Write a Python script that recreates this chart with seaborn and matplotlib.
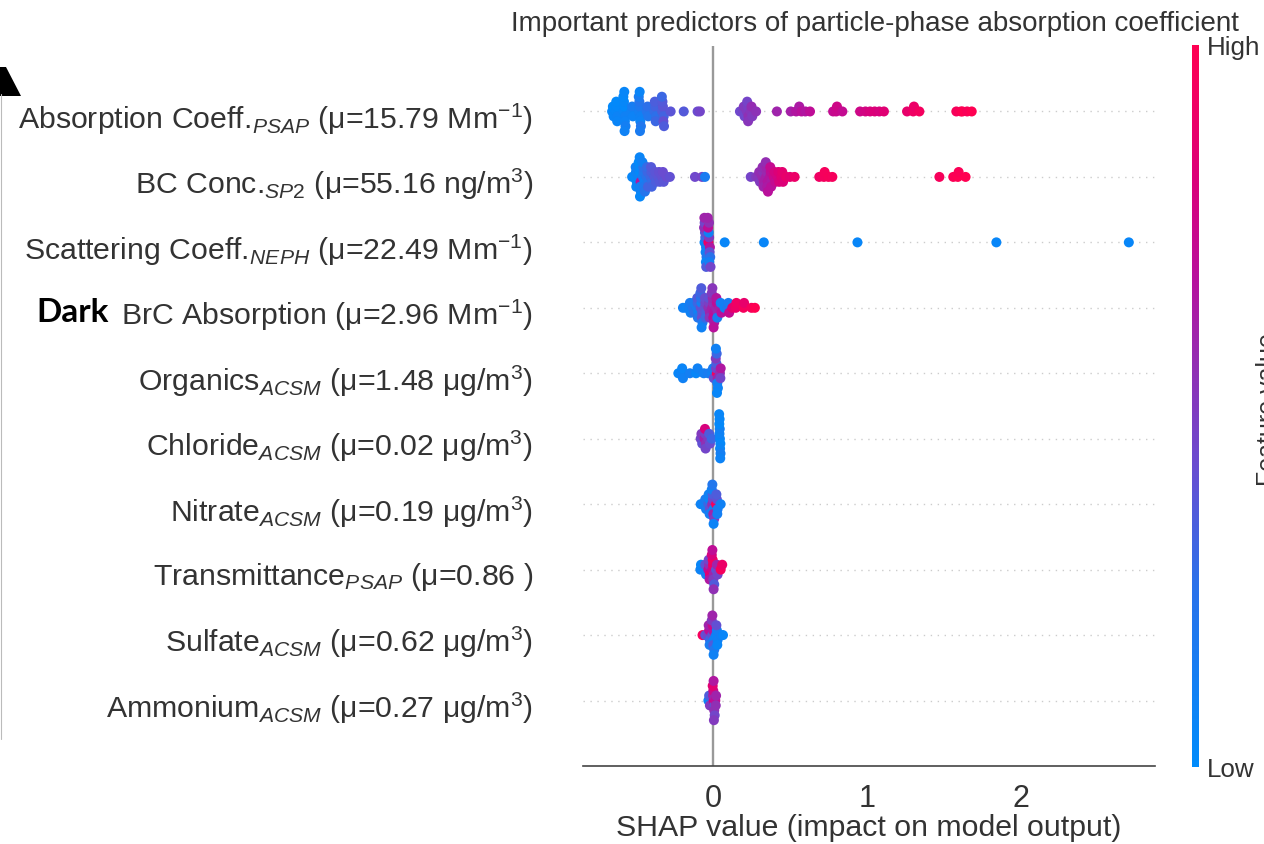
import numpy as np
import pandas as pd
import matplotlib
matplotlib.use("Agg")
import matplotlib.pyplot as plt
from matplotlib.colors import LinearSegmentedColormap, Normalize
from matplotlib.cm import ScalarMappable
from matplotlib.patches import Polygon
from matplotlib.lines import Line2D
from matplotlib.transforms import ScaledTranslation
import seaborn as sns

# ---------------------------------------------------------------------------
# Feature labels (top to bottom, most to least important)
# ---------------------------------------------------------------------------
feature_labels = [
    "Absorption Coeff.$_{PSAP}$ (μ=15.79 Mm$^{-1}$)",
    "BC Conc.$_{SP2}$ (μ=55.16 ng/m$^{3}$)",
    "Scattering Coeff.$_{NEPH}$ (μ=22.49 Mm$^{-1}$)",
    "BrC Absorption (μ=2.96 Mm$^{-1}$)",
    "Organics$_{ACSM}$ (μ=1.48 μg/m$^{3}$)",
    "Chloride$_{ACSM}$ (μ=0.02 μg/m$^{3}$)",
    "Nitrate$_{ACSM}$ (μ=0.19 μg/m$^{3}$)",
    "Transmittance$_{PSAP}$ (μ=0.86 )",
    "Sulfate$_{ACSM}$ (μ=0.62 μg/m$^{3}$)",
    "Ammonium$_{ACSM}$ (μ=0.27 μg/m$^{3}$)",
]

# SHAP values and scaled feature values (0 = low, 1 = high) for each feature
psap_shap = [-0.655, -0.650, -0.645,
             -0.630, -0.625, -0.620, -0.628, -0.622,
             -0.580, -0.575, -0.570, -0.578, -0.572, -0.582, -0.568, -0.576, -0.574,
             -0.530, -0.525, -0.520,
             -0.480, -0.475, -0.470, -0.478, -0.472, -0.482, -0.468, -0.476, -0.474,
             -0.430, -0.425, -0.420,
             -0.380, -0.375, -0.370, -0.378, -0.372,
             -0.330, -0.325, -0.320, -0.328, -0.322, -0.332, -0.318,
             -0.275, -0.190, -0.100, -0.085,
             0.175, 0.195, 0.200, 0.205,
             0.220, 0.225, 0.230, 0.222, 0.228,
             0.245, 0.250, 0.255, 0.280,
             0.415, 0.505, 0.540, 0.560, 0.575, 0.600, 0.630,
             0.780, 0.800, 0.805, 0.840,
             0.955, 0.990, 1.020, 1.050, 1.080, 1.110,
             1.260, 1.300, 1.305, 1.340,
             1.580, 1.610, 1.620, 1.650, 1.680]
psap_level = [0.04, 0.02, 0.06,
              0.05, 0.03, 0.08, 0.02, 0.06,
              0.06, 0.02, 0.10, 0.04, 0.08, 0.03, 0.12, 0.05, 0.09,
              0.10, 0.14, 0.08,
              0.12, 0.18, 0.10, 0.22, 0.08, 0.15, 0.20, 0.06, 0.16,
              0.22, 0.26, 0.20,
              0.28, 0.32, 0.26, 0.34, 0.30,
              0.34, 0.38, 0.32, 0.36, 0.40, 0.30, 0.35,
              0.38, 0.36, 0.42, 0.45,
              0.44, 0.46, 0.50, 0.44,
              0.50, 0.48, 0.55, 0.46, 0.52,
              0.52, 0.56, 0.50, 0.54,
              0.60, 0.62, 0.66, 0.64, 0.68, 0.66, 0.70,
              0.72, 0.74, 0.76, 0.72,
              0.76, 0.78, 0.80, 0.82, 0.80, 0.84,
              0.88, 0.92, 0.90, 0.94,
              0.96, 0.98, 1.00, 0.97, 1.00]

sp2_shap = [-0.525,
            -0.505, -0.500, -0.495, -0.502, -0.498,
            -0.480, -0.475, -0.470, -0.478, -0.472, -0.482, -0.468, -0.476, -0.474,
            -0.455, -0.450, -0.445, -0.452, -0.448, -0.458, -0.442,
            -0.430, -0.425, -0.420, -0.428, -0.422,
            -0.405, -0.400, -0.395, -0.402, -0.398,
            -0.380, -0.375, -0.370,
            -0.355, -0.350, -0.345,
            -0.330, -0.325, -0.320,
            -0.300, -0.280,
            -0.117, -0.071, -0.052,
            0.245, 0.280,
            0.295, 0.300, 0.305,
            0.320, 0.325, 0.330, 0.322, 0.328,
            0.345, 0.350, 0.355, 0.348, 0.352, 0.343, 0.357,
            0.370, 0.375, 0.380, 0.372, 0.378,
            0.395, 0.400, 0.405,
            0.420, 0.425, 0.430,
            0.445, 0.450, 0.455,
            0.475, 0.500, 0.530,
            0.690, 0.720, 0.725, 0.750, 0.775,
            1.470, 1.560, 1.590, 1.595, 1.640]
sp2_level = [0.05,
             0.04, 0.08, 0.02, 0.10, 0.06,
             0.08, 0.03, 0.65, 0.05, 0.12, 0.02, 0.10, 0.06, 0.04,
             0.15, 0.20, 0.12, 0.25, 0.18, 0.10, 0.22,
             0.25, 0.30, 0.22, 0.28, 0.32,
             0.30, 0.34, 0.28, 0.36, 0.32,
             0.36, 0.38, 0.34,
             0.38, 0.40, 0.36,
             0.40, 0.42, 0.38,
             0.42, 0.40,
             0.44, 0.46, 0.15,
             0.46, 0.50,
             0.52, 0.56, 0.50,
             0.58, 0.54, 0.62, 0.56, 0.60,
             0.62, 0.58, 0.66, 0.60, 0.64, 0.56, 0.68,
             0.66, 0.70, 0.64, 0.72, 0.68,
             0.74, 0.78, 0.72,
             0.78, 0.82, 0.80,
             0.84, 0.86, 0.82,
             0.88, 0.86, 0.90,
             0.92, 0.94, 0.95, 0.96, 0.95,
             0.96, 0.98, 1.00, 0.98, 1.00]

neph_shap = [-0.055, -0.050, -0.045, -0.052, -0.048, -0.058, -0.042, -0.054, -0.046, -0.056, -0.044,
             -0.030, -0.025, -0.020, -0.028, -0.022, -0.032, -0.018, -0.026, -0.024, -0.034, -0.016,
             0.076, 0.330, 0.938, 1.840, 2.700]
neph_level = [0.05, 0.30, 0.10, 0.40, 0.08, 0.55, 0.20, 0.45, 0.05, 0.60, 0.35,
              0.90, 0.50, 0.65, 0.10, 0.40, 0.70, 0.25, 0.55, 0.12, 0.60, 0.45,
              0.05, 0.05, 0.05, 0.05, 0.05]

brc_shap = [-0.195, -0.175,
            -0.155, -0.150, -0.145,
            -0.130, -0.125, -0.120,
            -0.105, -0.100, -0.095, -0.102, -0.098,
            -0.080, -0.075, -0.070, -0.078, -0.072, -0.082, -0.068, -0.076, -0.074,
            -0.055, -0.050, -0.045, -0.052, -0.048,
            -0.030, -0.025, -0.020, -0.028, -0.022,
            -0.005, 0.000, 0.005, -0.002, 0.002, -0.008, 0.008, -0.004, 0.004,
            0.020, 0.025, 0.030, 0.022, 0.028,
            0.045, 0.050, 0.055,
            0.075,
            0.095, 0.100, 0.105,
            0.125, 0.148, 0.152, 0.198, 0.202, 0.250, 0.272]
brc_level = [0.10, 0.08,
             0.12, 0.15, 0.10,
             0.20, 0.15, 0.25,
             0.15, 0.30, 0.10, 0.35, 0.20,
             0.40, 0.12, 0.38, 0.25, 0.42, 0.30, 0.18, 0.35, 0.10,
             0.40, 0.45, 0.35, 0.42, 0.30,
             0.55, 0.48, 0.60, 0.40, 0.52,
             0.62, 0.55, 0.66, 0.58, 0.70, 0.50, 0.64, 0.52, 0.68,
             0.60, 0.70, 0.58, 0.66, 0.15,
             0.62, 0.12, 0.68,
             0.10,
             0.20, 0.15, 0.72,
             0.85, 0.90, 0.92, 0.95, 0.88, 0.95, 1.00]

org_shap = [-0.225, -0.205, -0.200, -0.195, -0.150, -0.110, -0.100, -0.060, -0.030,
            -0.005, 0.000, 0.005,
            0.025, 0.020, 0.030, 0.022, 0.028, 0.018, 0.032, 0.024, 0.026, 0.019,
            0.045, 0.050, 0.048]
org_level = [0.05, 0.08, 0.06, 0.10, 0.12, 0.05, 0.10, 0.12, 0.15,
             0.10, 0.15, 0.40,
             0.95, 0.45, 0.60, 0.35, 0.12, 0.50, 0.08, 0.30, 0.05, 0.10,
             0.55, 0.65, 0.45]

chl_shap = [-0.080, -0.075, -0.070,
            -0.055, -0.050, -0.045, -0.052, -0.048,
            -0.030, -0.025, -0.020,
            -0.008,
            0.045, 0.042, 0.048, 0.044, 0.046, 0.041, 0.049, 0.043, 0.047, 0.040]
chl_level = [0.45, 0.50, 0.40,
             0.62, 0.48, 0.55, 0.80, 0.45,
             0.50, 0.35, 0.42,
             0.30,
             0.05, 0.08, 0.03, 0.10, 0.06, 0.02, 0.12, 0.04, 0.08, 0.05]

no3_shap = [-0.080,
            -0.055, -0.050, -0.045,
            -0.030, -0.025, -0.020, -0.028, -0.022,
            -0.005, 0.000, 0.005, -0.002, 0.002, -0.008, 0.008, -0.004, 0.004,
            0.020, 0.025, 0.030, 0.022, 0.028,
            0.050]
no3_level = [0.08,
             0.10, 0.15, 0.12,
             0.30, 0.08, 0.40, 0.10, 0.12,
             0.55, 0.45, 0.12, 0.35, 0.60, 0.10, 0.50, 0.20, 0.08,
             0.95, 0.40, 0.15, 0.35, 0.12,
             0.10]

trans_shap = [-0.082, -0.078,
              -0.055, -0.050, -0.045,
              -0.030, -0.025, -0.020, -0.028, -0.022,
              -0.005, 0.000, 0.005, -0.002, 0.002, -0.008, 0.008, -0.004, 0.004,
              0.020, 0.025, 0.030,
              0.050, 0.060]
trans_level = [0.08, 0.05,
               0.10, 0.40, 0.12,
               0.70, 0.55, 0.85, 0.45, 0.65,
               0.75, 0.90, 0.60, 0.95, 0.50, 0.80, 0.35, 0.70, 0.55,
               0.40, 0.60, 0.45,
               0.95, 0.90]

so4_shap = [-0.068, -0.050,
            -0.030, -0.025, -0.020, -0.028, -0.022,
            -0.005, 0.000, 0.005, -0.002, 0.002, -0.008, 0.008, -0.004, 0.004,
            0.020, 0.025, 0.030, 0.022, 0.028,
            0.055, 0.065]
so4_level = [0.95, 0.40,
             0.45, 0.70, 0.30, 0.60, 0.15,
             0.40, 0.65, 0.10, 0.75, 0.35, 0.50, 0.20, 0.60, 0.10,
             0.08, 0.12, 0.10, 0.40, 0.05,
             0.12, 0.05]

nh4_shap = [-0.030, -0.025, -0.020,
            0.005, 0.000, 0.010, 0.002, 0.008, -0.002, 0.011, 0.004, 0.006,
            0.015, 0.020, 0.018]
nh4_level = [0.10, 0.35, 0.50,
             0.80, 0.60, 0.40, 0.75, 0.55, 0.85, 0.45, 0.65, 0.50,
             0.70, 0.60, 0.55]

shap_rows = [psap_shap, sp2_shap, neph_shap, brc_shap, org_shap,
             chl_shap, no3_shap, trans_shap, so4_shap, nh4_shap]
level_rows = [psap_level, sp2_level, neph_level, brc_level, org_level,
              chl_level, no3_level, trans_level, so4_level, nh4_level]

x_ticks = [0, 1, 2]


def beeswarm_offsets(values, bin_width=0.025, step=0.075, max_offset=0.38):
    """Stack points that share a bin alternately above and below the row centre."""
    values = np.asarray(values, dtype=float)
    quant = np.round(values / bin_width)
    order = np.argsort(quant, kind="stable")
    ys = np.zeros(len(values))
    layer, last_bin = 0, None
    for idx in order:
        if quant[idx] != last_bin:
            layer = 0
        ys[idx] = np.ceil(layer / 2) * ((layer % 2) * 2 - 1)
        layer += 1
        last_bin = quant[idx]
    top = np.max(np.abs(ys))
    scale = step if top == 0 else min(step, max_offset / top)
    return ys * scale


n_feat = len(feature_labels)
frames = []
for i, (label, vals, levs) in enumerate(zip(feature_labels, shap_rows, level_rows)):
    row = n_feat - 1 - i
    frames.append(pd.DataFrame({
        "feature": label,
        "shap": vals,
        "level": levs,
        "ypos": row + beeswarm_offsets(vals),
    }))
df = pd.concat(frames, ignore_index=True)

# Blue -> purple -> red feature-value colour map
cmap = LinearSegmentedColormap.from_list("red_blue", [
    (0.00, "#008bfb"),
    (0.25, "#2a72ea"),
    (0.42, "#6a4cd0"),
    (0.55, "#9030b4"),
    (0.68, "#b8109c"),
    (0.82, "#dc0078"),
    (1.00, "#ff0052"),
])

sns.set_style("white")
plt.rcParams.update({
    "font.family": ["Liberation Sans", "DejaVu Sans"],
    "mathtext.fontset": "custom",
    "mathtext.rm": "Liberation Sans",
    "mathtext.it": "Liberation Sans:italic",
    "mathtext.bf": "Liberation Sans:bold",
    "text.color": "#333333",
    "axes.labelcolor": "#333333",
})

W, H = 1264, 845
fig = plt.figure(figsize=(W / 100, H / 100), dpi=100)
ax = fig.add_axes([583 / W, 1 - 767 / H, (1155 - 583) / W, (767 - 47) / H])

for y in range(n_feat):
    ax.axhline(y, color="#cccccc", lw=1.0, dashes=(1, 4), zorder=0)
ax.axvline(0, color="#999999", lw=1.7, zorder=1)

sns.scatterplot(data=df, x="shap", y="ypos", hue="level", palette=cmap,
                hue_norm=(0, 1), s=52, linewidth=0, legend=False, ax=ax, zorder=3)

ax.set_xlim(-0.844, 2.870)
ax.set_ylim(-1, n_feat)
ax.set_xticks(x_ticks)
ax.set_xticklabels([str(t) for t in x_ticks])
ax.set_yticks(range(n_feat))
ax.set_yticklabels(feature_labels[::-1])
ax.tick_params(axis="y", length=0, pad=36, labelsize=21.8, labelcolor="#333333")
ax.tick_params(axis="x", length=5, width=1, color="#555555", labelsize=22,
               labelcolor="#333333", pad=7)
shift_down = ScaledTranslation(0, -2 / 72, fig.dpi_scale_trans)
for lab in ax.get_yticklabels():
    lab.set_transform(lab.get_transform() + shift_down)
for side in ("top", "right", "left"):
    ax.spines[side].set_visible(False)
ax.spines["bottom"].set_color("#444444")
ax.spines["bottom"].set_linewidth(1.2)
ax.set_xlabel("SHAP value (impact on model output)", fontsize=21.8, labelpad=0.5)
ax.set_ylabel("")

fig.text(875 / W, 1 - 31 / H,
         "Important predictors of particle-phase absorption coefficient",
         ha="center", va="baseline", fontsize=20, color="#333333")

# Colour bar for the feature value
cax = fig.add_axes([1192 / W, 1 - 768 / H, 7 / W, (768 - 46) / H])
sm = ScalarMappable(norm=Normalize(0, 1), cmap=cmap)
cb = fig.colorbar(sm, cax=cax, ticks=[0, 1])
cb.set_ticklabels(["Low", "High"])
cb.ax.tick_params(labelsize=18.7, length=0, pad=6, labelcolor="#333333")
cb.outline.set_visible(False)
fig.text(1256 / W, 1 - 410 / H, "Feature value", rotation=90,
         ha="left", va="center", fontsize=18, color="#333333")

# Bold qualifier in front of the BrC feature label
fig.text(36 / W, 1 - 313 / H, "Dark", fontfamily=["Lato", "DejaVu Sans"],
         fontweight="bold", fontsize=24, ha="left", va="center", color="black")

# Panel marker and frame edge on the left
fig.patches.append(Polygon([(0, 1 - 68 / H), (6 / W, 1 - 68 / H),
                            (21 / W, 1 - 97 / H), (0, 1 - 97 / H)],
                           closed=True, facecolor="black", edgecolor="none",
                           transform=fig.transFigure, figure=fig))
fig.lines.append(Line2D([1 / W, 1 / W], [1 - 95 / H, 1 - 740 / H], color="#bbbbbb",
                        lw=0.8, transform=fig.transFigure, figure=fig))

fig.savefig("out.png", dpi=100)
